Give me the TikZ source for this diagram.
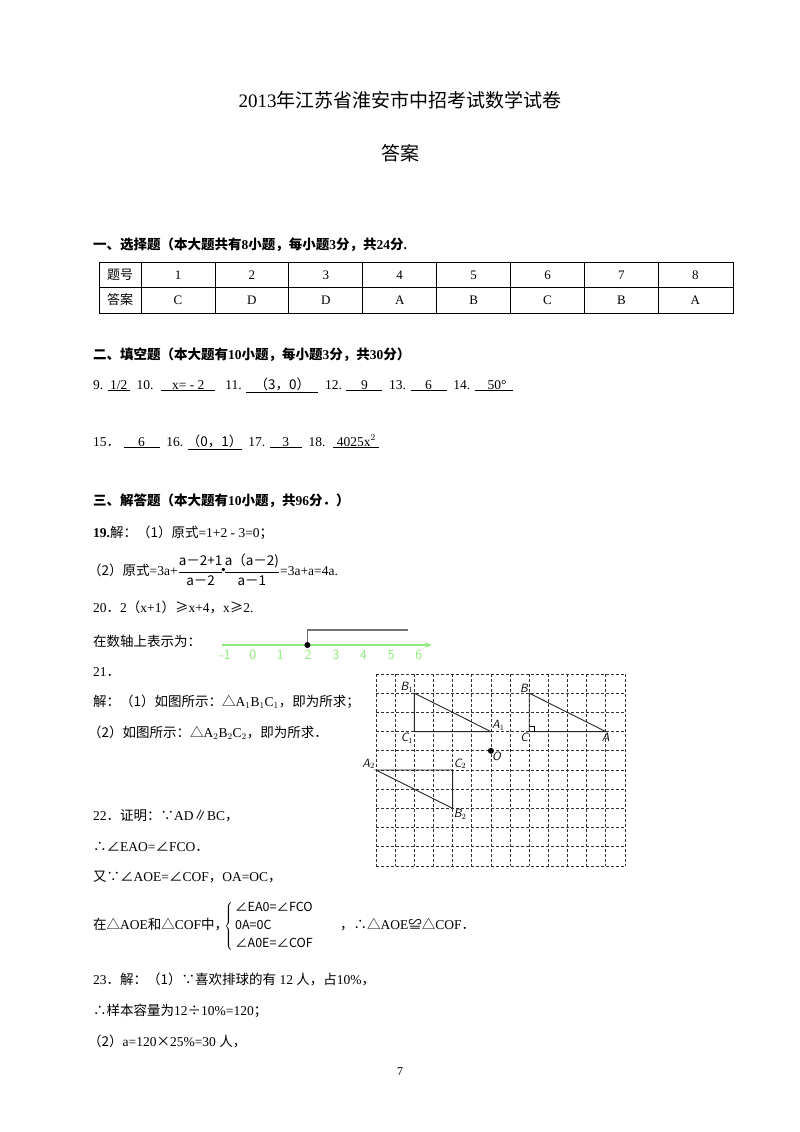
\documentclass[tikz,border=0pt]{standalone}
\usepackage{fontspec}
\usetikzlibrary{arrows.meta}
\setmainfont{Liberation Serif}
\newfontfamily\cjk{Noto Sans CJK SC}
\newcommand{\zh}[1]{{\cjk #1}}
\newcommand{\ulb}[2]{\underline{\makebox[#1pt]{#2}}}
\definecolor{lgreen}{RGB}{140,235,120}
\tikzset{
 txt/.style={anchor=west,inner sep=0pt,font=\fontsize{13.5}{16}\selectfont},
 hd/.style={txt,font=\fontsize{13.5}{16}\selectfont\bfseries},
 cell/.style={inner sep=0pt,font=\fontsize{13}{16}\selectfont},
 grid/.style={densely dashed,line width=0.8pt,black!80},
 tri/.style={line width=0.9pt,black!85},
 lab/.style={inner sep=1pt,font=\sffamily\itshape\fontsize{12}{14}\selectfont},
 nl/.style={inner sep=0pt,font=\sffamily\fontsize{14}{16}\selectfont,text=lgreen}
}
\begin{document}
\begin{tikzpicture}[x=1pt,y=-1pt]
\useasboundingbox[fill=white] (0,0) rectangle (800,1132);
\node[inner sep=0,font=\fontsize{19}{22}\selectfont] (title) at (400,100) {2013\zh{年江苏省淮安市中招考试数学试卷}};
\node[inner sep=0,font=\fontsize{19}{22}\selectfont] (ans) at (400,153) {\zh{答案}};
\node[hd] (s1) at (93,245) {\zh{一、选择题（本大题共有}8\zh{小题，每小题}3\zh{分，共}24\zh{分}.};
% table
\draw[line width=0.7pt] (99,262) rectangle (733,313);
\draw[line width=0.7pt] (99,287.5) -- (733,287.5);
\foreach \i in {0,...,7}{\draw[line width=0.7pt] (141+73.9*\i,262) -- (141+73.9*\i,313);}
\node[cell] (h1) at (120,275) {\zh{题号}};
\node[cell] (h2) at (120,300) {\zh{答案}};
\foreach \n/\a [count=\i from 0] in {1/C,2/D,3/D,4/A,5/B,6/C,7/B,8/A}{
 \node[cell] (n\n) at (178+73.9*\i,275) {\n};
 \node[cell] (a\n) at (178+73.9*\i,300) {\a};}
\node[hd] (s2) at (93,355) {\zh{二、填空题（本大题有}10\zh{小题，每小题}3\zh{分，共}30\zh{分）}};
\node[txt] (l9) at (93,385) {9. \ulb{22}{1/2}\ \ 10. \ \ulb{54}{x= - 2}\ \ \ 11. \ulb{72}{\zh{（3，0）}}\ \ 12. \ulb{36}{9}\ \ 13. \ulb{36}{6}\ \ 14. \ulb{38}{\ \ 50°}};
\node[txt] (l15) at (93,442) {15\zh{．}\ \ulb{36}{6}\ \ 16. \ulb{54}{\zh{（0，1）}}\ \ 17. \ulb{32}{3}\ \ 18. \ \ulb{46}{4025x$^2$}};
\node[hd] (s3) at (93,501) {\zh{三、解答题（本大题有}10\zh{小题，共}96\zh{分．）}};
\node[txt] (l19) at (93,533) {\textbf{19.}\zh{解：（1）原式}=1+2 - 3=0\zh{；}};
\node[txt] (l19b) at (88,570) {\zh{（2）原式}=3a+$\displaystyle\frac{\mbox{\cjk a－2+1}}{\mbox{\cjk a－2}}\!\raisebox{1pt}{\textbullet}\!\frac{\mbox{\cjk a（a－2)}}{\mbox{\cjk a－1}}$=3a+a=4a.};
\node[txt] (l20) at (93,607) {20\zh{．}2\zh{（}x+1\zh{）≥}x+4\zh{，}x\zh{≥}2.};
\node[txt] (l20b) at (93,641) {\zh{在数轴上表示为：}};
% number line
\draw[lgreen,line width=1.3pt,-{Stealth[length=7pt]}] (222,645) -- (432,645);
\foreach \v [count=\i from 0] in {-1,0,1,2,3,4,5,6}{\node[nl] (t\i) at (225+27.7*\i,655) {\v};}
\coordinate (p2) at (307.4,645);
\coordinate (top) at (307.4,630);
\coordinate (ed) at (408,630);
\draw[gray!90!black,line width=1.3pt] (p2) -- (top) -- (ed);
\fill (p2) circle (3pt);
\node[txt] (l21) at (93,672) {21\zh{．}};
\node[txt] (l21a) at (93,702) {\zh{解：（1）如图所示：△}A$_1$B$_1$C$_1$\zh{，即为所求；}};
\node[txt] (l21b) at (88,733) {\zh{（2）如图所示：△}A$_2$B$_2$C$_2$\zh{，即为所求．}};
% grid
\begin{scope}[shift={(376,674)},x=19.15pt,y=-19.2pt]
\foreach \i in {0,...,13}{\draw[grid] (\i,0) -- (\i,10);}
\foreach \j in {0,...,10}{\draw[grid] (0,\j) -- (13,\j);}
\coordinate (B1) at (2,1); \coordinate (C1) at (2,3); \coordinate (A1) at (6,3);
\coordinate (B) at (8,1); \coordinate (C) at (8,3); \coordinate (A) at (12,3);
\coordinate (O) at (6,4);
\coordinate (A2) at (0,5); \coordinate (C2) at (4,5); \coordinate (B2) at (4,7);
\draw[tri] (B1) -- (C1) -- (A1) -- cycle;
\draw[tri] (B) -- (C) -- (A) -- cycle;
\draw[tri] (A2) -- (C2) -- (B2) -- cycle;
\draw[line width=0.7pt] (8,2.75) -- (8.25,2.75) -- (8.25,3);
\fill (O) circle (3pt);
\end{scope}
\node[lab,anchor=south east] (lB1) at (B1) {B$_1$};
\node[lab,anchor=north east] (lC1) at (C1) {C$_1$};
\node[lab,anchor=south west] (lA1) at (A1) {A$_1$};
\node[lab,anchor=south east] (lB) at (B) {B};
\node[lab,anchor=north east] (lC) at (C) {C};
\node[lab,anchor=north] (lA) at (A) {A};
\node[lab,anchor=north west] (lO) at (O) {O};
\node[lab,anchor=south east] (lA2) at (A2) {A$_2$};
\node[lab,anchor=south west] (lC2) at (C2) {C$_2$};
\node[lab,anchor=north west] (lB2) at (B2) {B$_2$};
\node[txt] (l22) at (93,816) {22\zh{．证明：∵}AD\zh{∥}BC\zh{，}};
\node[txt] (l22a) at (93,847) {\zh{∴∠}EAO=\zh{∠}FCO\zh{．}};
\node[txt] (l22b) at (93,877) {\zh{又∵∠}AOE=\zh{∠}COF\zh{，}OA=OC\zh{，}};
\node[txt] (l22c) at (93,925) {\zh{在△}AOE\zh{和△}COF\zh{中，}};
\node[txt,font=\cjk\fontsize{12.5}{15}\selectfont,anchor=west] (sys) at (224,926) {$\left\{\begin{tabular}{@{\,}l@{}}\cjk ∠EA0=∠FCO\\[3pt]\cjk 0A=0C\\[3pt]\cjk ∠A0E=∠COF\end{tabular}\right.$};
\node[txt] (l22d) at (340,925) {\zh{，∴△}AOE\zh{≌△}COF\zh{．}};
\node[txt] (l23) at (93,979) {23\zh{．解：（1）∵喜欢排球的有} 12 \zh{人，占}10\%\zh{，}};
\node[txt] (l23a) at (93,1011) {\zh{∴样本容量为}12\zh{÷}10\%=120\zh{；}};
\node[txt] (l23b) at (88,1041) {\zh{（2）}a=120\zh{×}25\%=30 \zh{人，}};
\node[inner sep=0,font=\fontsize{12}{14}\selectfont] (pg) at (400,1072) {7};
\end{tikzpicture}
\end{document}
